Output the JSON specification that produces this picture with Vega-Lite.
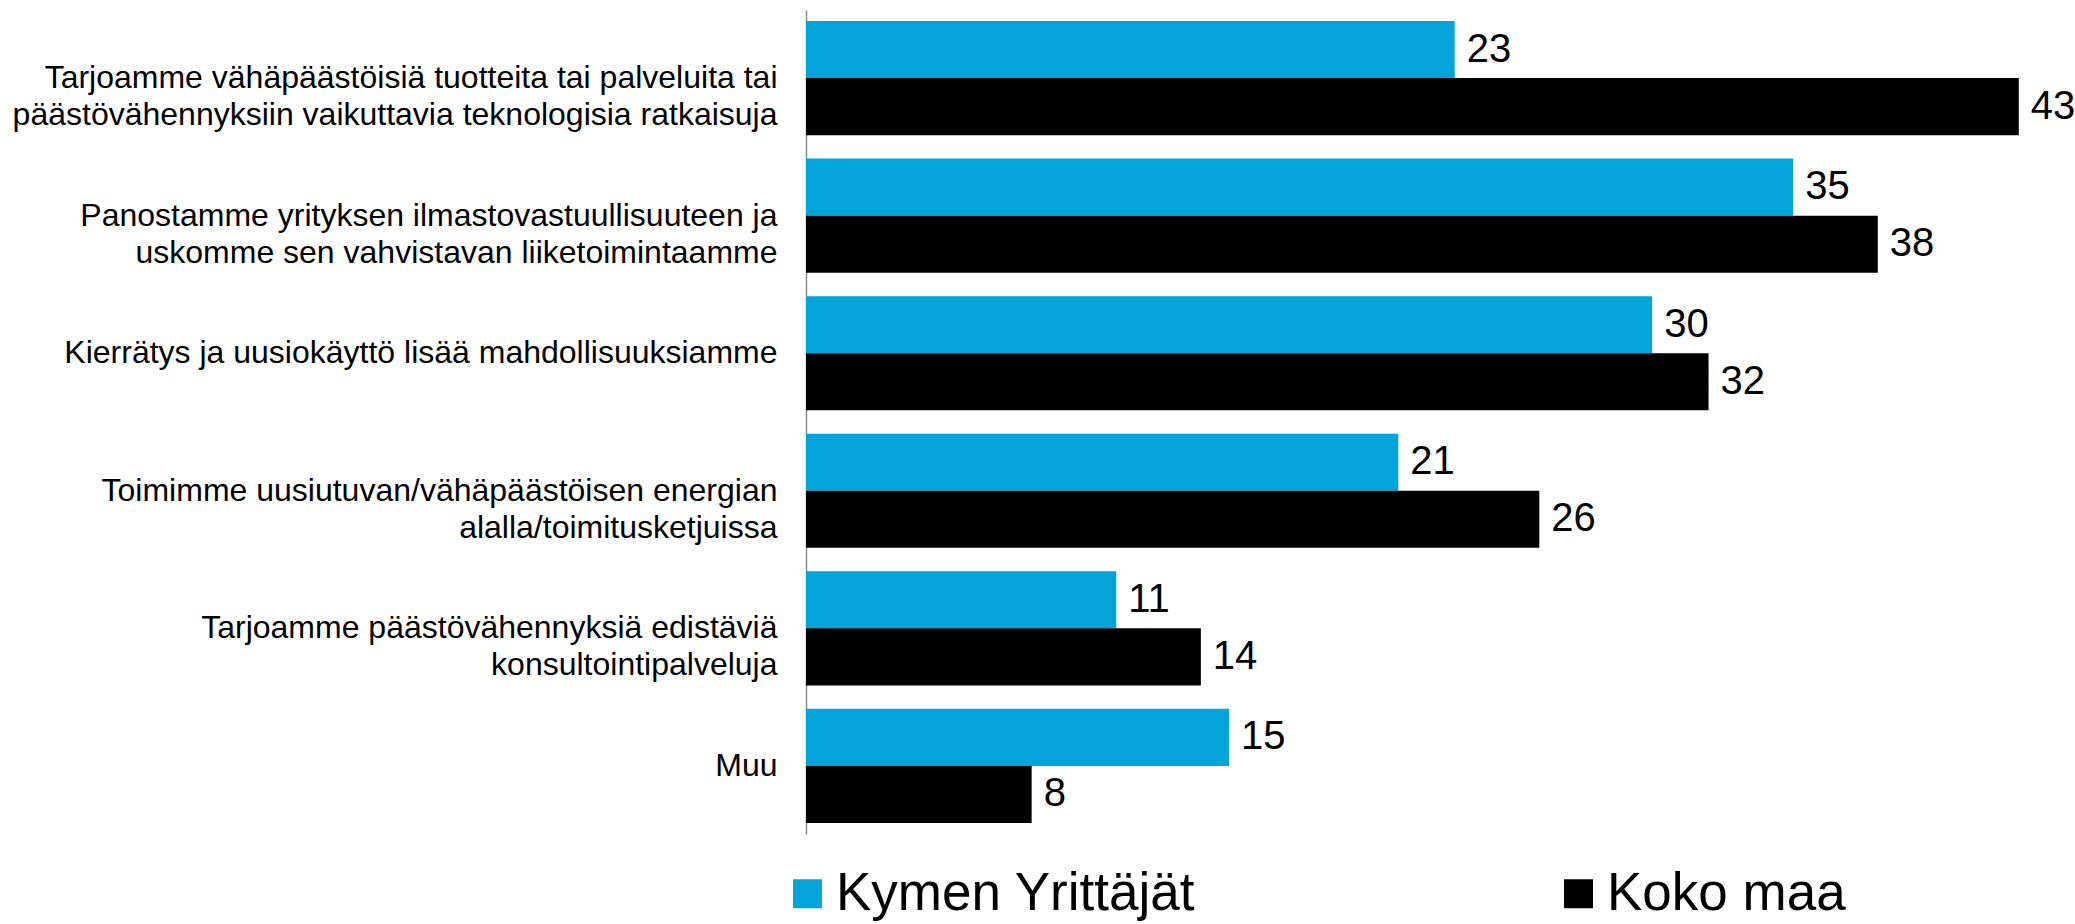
{
  "$schema": "https://vega.github.io/schema/vega-lite/v6.json",
  "width": 1241,
  "height": 824,
  "autosize": {"type": "none"},
  "padding": {"left": 806, "top": 10, "right": 28, "bottom": 90},
  "background": "white",
  "config": {"font": "Liberation Sans", "view": {"stroke": null}},
  "data": {
    "values": [
      {"item": "Tarjoamme vähäpäästöisiä tuotteita tai palveluita tai\npäästövähennyksiin vaikuttavia teknologisia ratkaisuja", "series": "Kymen Yrittäjät", "value": 23},
      {"item": "Tarjoamme vähäpäästöisiä tuotteita tai palveluita tai\npäästövähennyksiin vaikuttavia teknologisia ratkaisuja", "series": "Koko maa", "value": 43},
      {"item": "Panostamme yrityksen ilmastovastuullisuuteen ja\nuskomme sen vahvistavan liiketoimintaamme", "series": "Kymen Yrittäjät", "value": 35},
      {"item": "Panostamme yrityksen ilmastovastuullisuuteen ja\nuskomme sen vahvistavan liiketoimintaamme", "series": "Koko maa", "value": 38},
      {"item": "Kierrätys ja uusiokäyttö lisää mahdollisuuksiamme", "series": "Kymen Yrittäjät", "value": 30},
      {"item": "Kierrätys ja uusiokäyttö lisää mahdollisuuksiamme", "series": "Koko maa", "value": 32},
      {"item": "Toimimme uusiutuvan/vähäpäästöisen energian\nalalla/toimitusketjuissa", "series": "Kymen Yrittäjät", "value": 21},
      {"item": "Toimimme uusiutuvan/vähäpäästöisen energian\nalalla/toimitusketjuissa", "series": "Koko maa", "value": 26},
      {"item": "Tarjoamme päästövähennyksiä edistäviä\nkonsultointipalveluja", "series": "Kymen Yrittäjät", "value": 11},
      {"item": "Tarjoamme päästövähennyksiä edistäviä\nkonsultointipalveluja", "series": "Koko maa", "value": 14},
      {"item": "Muu", "series": "Kymen Yrittäjät", "value": 15},
      {"item": "Muu", "series": "Koko maa", "value": 8}
    ]
  },
  "encoding": {
    "y": {
      "field": "item",
      "type": "nominal",
      "sort": null,
      "scale": {"paddingInner": 0.17, "paddingOuter": 0.08},
      "axis": {
        "title": null,
        "labelExpr": "split(datum.label, '\\n')",
        "labelFontSize": 32,
        "labelColor": "#000000",
        "labelLineHeight": 37,
        "labelPadding": 29,
        "labelLimit": 0,
        "labelAlign": "right",
        "labelBaseline": "middle",
        "ticks": false,
        "domainColor": "#8c8c8c",
        "domainWidth": 1.5
      }
    },
    "yOffset": {
      "field": "series",
      "type": "nominal",
      "sort": ["Kymen Yrittäjät", "Koko maa"],
      "scale": {"paddingInner": 0, "paddingOuter": 0}
    },
    "x": {
      "field": "value",
      "type": "quantitative",
      "scale": {"domain": [0, 44], "nice": false, "zero": true},
      "axis": null
    }
  },
  "layer": [
    {
      "mark": {"type": "bar"},
      "encoding": {
        "color": {
          "field": "series",
          "type": "nominal",
          "scale": {"domain": ["Kymen Yrittäjät", "Koko maa"], "range": ["#03a4d9", "#000000"]},
          "legend": {
            "title": null,
            "orient": "none",
            "legendX": -25,
            "legendY": 857,
            "direction": "horizontal",
            "symbolType": "square",
            "symbolSize": 841,
            "symbolStrokeWidth": 0,
            "labelFontSize": 53,
            "labelColor": "#000000",
            "labelOffset": 2,
            "labelLimit": 0,
            "columnPadding": 356
          }
        }
      }
    },
    {
      "mark": {"type": "text", "align": "left", "baseline": "middle", "dx": 12, "fontSize": 40, "color": "#000000"},
      "encoding": {"text": {"field": "value", "type": "quantitative"}}
    }
  ]
}
